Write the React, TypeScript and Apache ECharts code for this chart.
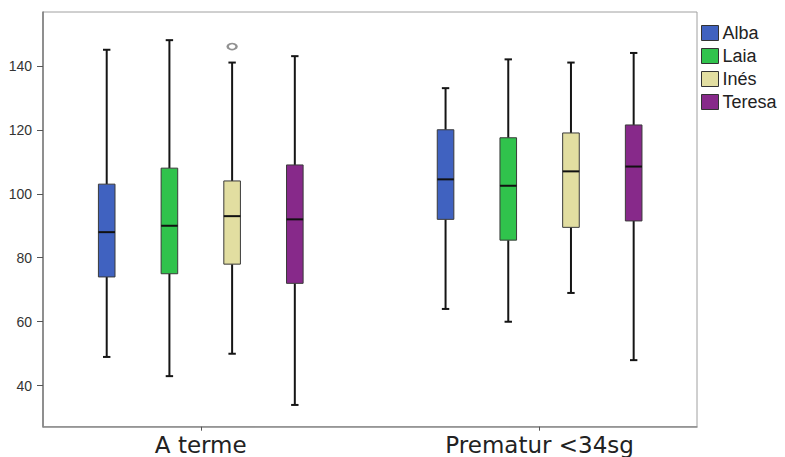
import React, { useEffect, useRef } from "react";
import * as echarts from "echarts";

// Categories (x groups) and series names
const categories = ["A terme", "Prematur <34sg"];
const seriesNames = ["Alba", "Laia", "Inés", "Teresa"];

// Five-number summaries [min, Q1, median, Q3, max] per group
const alba = [
  [49, 74, 88, 103, 145],
  [64, 92, 104.5, 120, 133],
];
const laia = [
  [43, 75, 90, 108, 148],
  [60, 85.5, 102.5, 117.5, 142],
];
const ines = [
  [50, 78, 93, 104, 141],
  [69, 89.5, 107, 119, 141],
];
const teresa = [
  [34, 72, 92, 109, 143],
  [48, 91.5, 108.5, 121.5, 144],
];

// Outliers: [seriesIndex, groupIndex, value]
const outliers = [[2, 0, 146]];

// Y tick labels
const yTicks = [40, 60, 80, 100, 120, 140];

const seriesValues = [alba, laia, ines, teresa];
const colors = ["#4062c0", "#30c34c", "#e2dea1", "#87298a"];

// Layout (axis units: one unit = distance between neighbouring boxes)
const GROUP_START = [1.016, 6.42];
const X_MAX = 10.43;
const BOX_HALF = 8.3;
const CAP_HALF = 3.7;

export default function App() {
  const ref = useRef<HTMLDivElement>(null);

  useEffect(() => {
    document.body.style.margin = "0";
    if (!ref.current) return;
    const chart = echarts.init(ref.current, null, { renderer: "svg" });

    const groupCenters = GROUP_START.map((s) => s + (seriesNames.length - 1) / 2);

    const boxSeries = seriesNames.map((name, pi) => ({
      name,
      type: "custom",
      itemStyle: { color: colors[pi] },
      encode: { x: 0, y: [1, 2, 3, 4, 5] },
      data: seriesValues[pi].map((v, g) => [g, ...v]),
      renderItem: (params: any, api: any) => {
        const g = api.value(0);
        const x = GROUP_START[g] + pi;
        const lo = api.coord([x, api.value(1)]);
        const q1 = api.coord([x, api.value(2)]);
        const med = api.coord([x, api.value(3)]);
        const q3 = api.coord([x, api.value(4)]);
        const hi = api.coord([x, api.value(5)]);
        const cx = lo[0];
        const wStyle = { stroke: "#151515", lineWidth: 2 };
        return {
          type: "group",
          children: [
            { type: "line", shape: { x1: cx, y1: hi[1], x2: cx, y2: q3[1] }, style: wStyle },
            { type: "line", shape: { x1: cx, y1: q1[1], x2: cx, y2: lo[1] }, style: wStyle },
            { type: "line", shape: { x1: cx - CAP_HALF, y1: hi[1], x2: cx + CAP_HALF, y2: hi[1] }, style: wStyle },
            { type: "line", shape: { x1: cx - CAP_HALF, y1: lo[1], x2: cx + CAP_HALF, y2: lo[1] }, style: wStyle },
            {
              type: "rect",
              shape: { x: cx - BOX_HALF, y: q3[1], width: BOX_HALF * 2, height: q1[1] - q3[1] },
              style: { fill: colors[pi], stroke: "#3a3a3a", lineWidth: 1 },
            },
            { type: "line", shape: { x1: cx - BOX_HALF, y1: med[1], x2: cx + BOX_HALF, y2: med[1] }, style: { stroke: "#111", lineWidth: 2 } },
          ],
        };
      },
    }));

    const option: any = {
      animation: false,
      grid: {
        left: 43,
        top: 12,
        width: 654,
        height: 414.7,
        show: true,
        borderColor: "#a0a0a0",
        borderWidth: 1,
      },
      legend: {
        data: seriesNames,
        orient: "vertical",
        left: 701,
        top: 24,
        padding: 0,
        itemWidth: 17,
        itemHeight: 15,
        itemGap: 5,
        icon: "rect",
        itemStyle: { borderColor: "#333", borderWidth: 1 },
        textStyle: { fontFamily: "Liberation Sans", fontSize: 18, color: "#222", padding: [0, 0, 0, -1] },
      },
      xAxis: {
        type: "value",
        min: 0,
        max: X_MAX,
        splitLine: { show: false },
        axisLine: { show: true, lineStyle: { color: "#8c8c8c", width: 1.5 } },
        axisTick: { show: true, customValues: groupCenters, length: 4, lineStyle: { color: "#555" } },
        axisLabel: {
          customValues: groupCenters,
          formatter: (v: number) => {
            let best = 0;
            groupCenters.forEach((c, i) => {
              if (Math.abs(c - v) < Math.abs(groupCenters[best] - v)) best = i;
            });
            return categories[best];
          },
          fontFamily: "DejaVu Sans",
          fontSize: 23,
          color: "#222",
          margin: 7,
        },
      },
      yAxis: {
        type: "value",
        min: 27.2,
        max: 156.8,
        splitLine: { show: false },
        axisLine: { show: true, lineStyle: { color: "#7a7a7a", width: 1.5 } },
        axisTick: { show: true, customValues: yTicks, length: 6, lineStyle: { color: "#555" } },
        axisLabel: {
          customValues: yTicks,
          fontFamily: "Liberation Sans",
          fontSize: 14,
          color: "#333",
          margin: 11,
        },
      },
      series: [
        ...boxSeries,
        {
          name: "outliers",
          type: "scatter",
          symbol: "emptyCircle",
          symbolSize: [9, 6],
          itemStyle: { color: "#777", borderWidth: 1.5 },
          data: outliers.map(([pi, g, v]) => [GROUP_START[g] + pi, v]),
        },
      ],
    };

    chart.setOption(option);
    return () => chart.dispose();
  }, []);

  return <div ref={ref} style={{ width: 785, height: 457 }} />;
}
